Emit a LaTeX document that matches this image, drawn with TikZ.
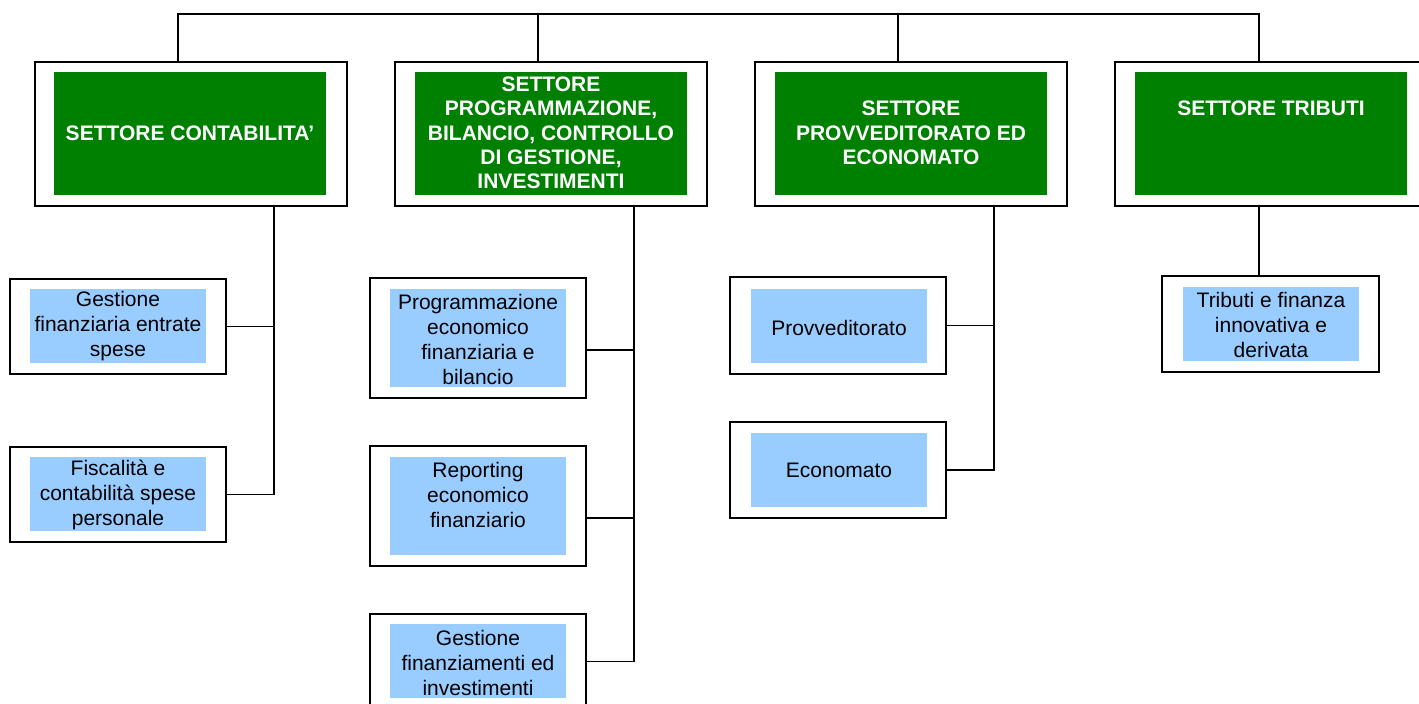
\documentclass[tikz,border=0pt]{standalone}
\usepackage{fontspec}
\setmainfont{Liberation Sans}
\definecolor{hdrgreen}{RGB}{0,128,0}
\definecolor{subblue}{RGB}{153,204,255}
\begin{document}
\begin{tikzpicture}[x=1pt,y=-1pt,
  outer/.style={draw=black, line width=1.6pt, fill=white, inner sep=0pt},
  gfill/.style={fill=hdrgreen, inner sep=0pt, minimum width=272pt, minimum height=123pt},
  bfill/.style={fill=subblue, inner sep=0pt, minimum width=176pt},
  htext/.style={text=white, font=\bfseries\fontsize{21}{24.3}\selectfont, align=center, inner sep=0pt},
  ctext/.style={text=black, font=\fontsize{21}{25}\selectfont, align=center, inner sep=0pt, yshift=-1.5pt},
  conn/.style={draw=black, line width=1.6pt}]
\useasboundingbox (0,0) rectangle (1419,704);
% ---- top level boxes
\node[outer, minimum width=312pt, minimum height=144pt] (s1) at (191,134) {};
\node[gfill] (s1f) at (190,133.5) {};
\node[htext] (s1t) at (190,133) {SETTORE CONTABILITA’};
\node[outer, minimum width=312pt, minimum height=144pt] (s2) at (551,134) {};
\node[gfill] (s2f) at (551,133.5) {};
\node[htext] (s2t) at (551,133) {SETTORE\\PROGRAMMAZIONE,\\BILANCIO, CONTROLLO\\DI GESTIONE,\\INVESTIMENTI};
\node[outer, minimum width=312pt, minimum height=144pt] (s3) at (911,134) {};
\node[gfill] (s3f) at (911,133.5) {};
\node[htext] (s3t) at (911,133) {SETTORE\\PROVVEDITORATO ED\\ECONOMATO};
\node[outer, minimum width=312pt, minimum height=144pt] (s4) at (1271,134) {};
\node[gfill] (s4f) at (1271,133.5) {};
\node[htext] (s4t) at (1271,108) {SETTORE TRIBUTI};
% ---- top connector
\coordinate (t1) at (178,14);
\coordinate (t2) at (538,14);
\coordinate (t3) at (898,14);
\coordinate (t4) at (1259,14);
\draw[conn] (t1 |- s1.north) -- (t1) -- (t4) -- (t4 |- s4.north);
\draw[conn] (t2) -- (t2 |- s2.north);
\draw[conn] (t3) -- (t3 |- s3.north);
% ---- column 1
\node[outer, minimum width=216pt, minimum height=95pt] (a) at (118,326.5) {};
\node[bfill, minimum height=74pt] (af) at (118,326) {};
\node[ctext] (at) at (118,325) {Gestione\\finanziaria entrate\\spese};
\node[outer, minimum width=216pt, minimum height=95pt] (b) at (118,494.5) {};
\node[bfill, minimum height=74pt] (bf) at (118,494) {};
\node[ctext] (bt) at (118,493) {Fiscalità e\\contabilità spese\\personale};
\coordinate (v1) at (274,0);
\draw[conn] (v1 |- s1.south) |- (b.east);
\draw[conn] (a.east) -- (a.east -| v1);
% ---- column 2
\node[outer, minimum width=216pt, minimum height=120pt] (c) at (478,338) {};
\node[bfill, minimum height=98pt] (cf) at (478,338) {};
\node[ctext] (ct) at (478,337.5) {Programmazione\\economico\\finanziaria e\\bilancio};
\node[outer, minimum width=216pt, minimum height=120pt] (d) at (478,506) {};
\node[bfill, minimum height=98pt] (df) at (478,506) {};
\node[ctext] (dt) at (478,493) {Reporting\\economico\\finanziario};
\node[outer, minimum width=216pt, minimum height=95pt] (e) at (478,661.5) {};
\node[bfill, minimum height=74pt] (ef) at (478,661) {};
\node[ctext] (et) at (478,661) {Gestione\\finanziamenti ed\\investimenti};
\coordinate (v2) at (634,0);
\coordinate (hc) at (0,350);
\coordinate (hd) at (0,518);
\draw[conn] (v2 |- s2.south) |- (e.east);
\draw[conn] (c.east |- hc) -- (v2 |- hc);
\draw[conn] (d.east |- hd) -- (v2 |- hd);
% ---- column 3
\node[outer, minimum width=216pt, minimum height=97pt] (f) at (838,325.5) {};
\node[bfill, minimum height=74pt] (ff) at (839,326) {};
\node[ctext] (ft) at (839,326) {Provveditorato};
\node[outer, minimum width=216pt, minimum height=96pt] (g) at (838,470) {};
\node[bfill, minimum height=74pt] (gf) at (839,470) {};
\node[ctext] (gt) at (839,469) {Economato};
\coordinate (v3) at (994,0);
\draw[conn] (v3 |- s3.south) |- (g.east);
\draw[conn] (f.east) -- (f.east -| v3);
% ---- column 4
\node[outer, minimum width=217pt, minimum height=96pt] (h) at (1270.5,324) {};
\node[bfill, minimum height=74pt] (hf) at (1271,324) {};
\node[ctext] (ht) at (1271,323) {Tributi e finanza\\innovativa e\\derivata};
\coordinate (v4) at (1259,0);
\draw[conn] (v4 |- s4.south) -- (v4 |- h.north);
\end{tikzpicture}
\end{document}
